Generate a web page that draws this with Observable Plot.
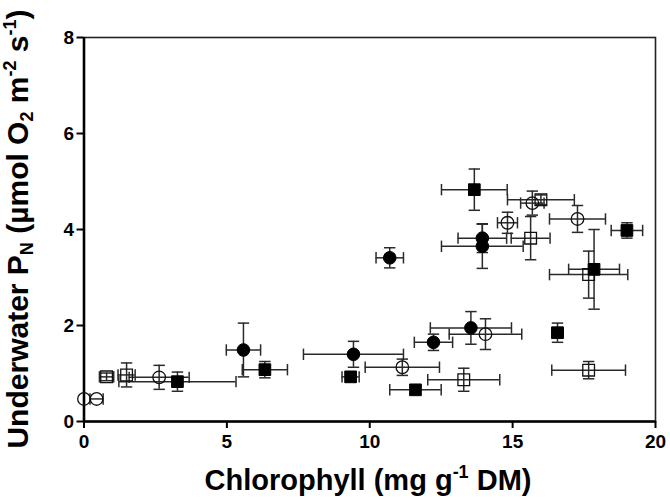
<!DOCTYPE html>
<html>
<head>
<meta charset="utf-8">
<script src="https://cdn.jsdelivr.net/npm/d3@7"></script>
<script src="https://cdn.jsdelivr.net/npm/@observablehq/plot@0.6"></script>
<style>
  html, body { margin: 0; padding: 0; background: #fff; }
  #chart { width: 670px; height: 500px; }
</style>
</head>
<body>
<div id="chart"></div>
<script>
// ---- data ----
const xTicks = [0, 5, 10, 15, 20];
const yTicks = [0, 2, 4, 6, 8];

// filled circles
const filledCircleX    = [5.58, 9.43, 10.70, 12.23, 13.54, 13.94, 13.94];
const filledCircleY    = [1.49, 1.40, 3.41, 1.65, 1.95, 3.82, 3.65];
const filledCircleXerr = [0.60, 1.75, 0.48, 0.67, 1.42, 0.85, 1.43];
const filledCircleYerr = [0.56, 0.27, 0.21, 0.17, 0.34, 0.30, 0.46];

// open circles
const openCircleX    = [0.00, 0.44, 2.63, 11.14, 14.05, 14.82, 15.69, 17.27];
const openCircleY    = [0.47, 0.47, 0.92, 1.13, 1.82, 4.14, 4.55, 4.22];
const openCircleXerr = [0.00, 0.23, 1.05, 1.30, 1.27, 0.35, 0.41, 0.98];
const openCircleYerr = [0.00, 0.00, 0.25, 0.17, 0.32, 0.22, 0.25, 0.28];

// filled squares
const filledSquareX    = [3.27, 6.33, 9.33, 11.60, 13.66, 16.57, 17.85, 19.00];
const filledSquareY    = [0.83, 1.08, 0.93, 0.66, 4.83, 1.85, 3.17, 3.98];
const filledSquareXerr = [2.05, 0.79, 0.30, 0.90, 1.15, 0.20, 0.89, 0.55];
const filledSquareYerr = [0.20, 0.17, 0.10, 0.00, 0.43, 0.20, 0.83, 0.16];

// open squares
const openSquareX    = [0.79, 1.49, 13.29, 15.63, 15.99, 17.66, 17.66];
const openSquareY    = [0.93, 0.97, 0.87, 3.82, 4.62, 3.06, 1.07];
const openSquareXerr = [0.25, 0.30, 1.26, 0.68, 1.17, 1.37, 1.29];
const openSquareYerr = [0.08, 0.25, 0.24, 0.45, 0.10, 0.49, 0.18];

// ---- build table ----
function rows(group, X, Y, XE, YE) {
  return X.map((x, i) => ({group, x, y: Y[i], xe: XE[i], ye: YE[i]}));
}
const fc = rows("filledCircle", filledCircleX, filledCircleY, filledCircleXerr, filledCircleYerr);
const oc = rows("openCircle", openCircleX, openCircleY, openCircleXerr, openCircleYerr);
const fs = rows("filledSquare", filledSquareX, filledSquareY, filledSquareXerr, filledSquareYerr);
const os = rows("openSquare", openSquareX, openSquareY, openSquareXerr, openSquareYerr);
const all = [...fc, ...oc, ...fs, ...os];
const xErr = all.filter(d => d.xe > 0);
const yErr = all.filter(d => d.ye > 0);

// custom cap symbols
const vCap = {draw(ctx, size) { const r = Math.sqrt(size / Math.PI); ctx.moveTo(0, -r); ctx.lineTo(0, r); }};
const hCap = {draw(ctx, size) { const r = Math.sqrt(size / Math.PI); ctx.moveTo(-r, 0); ctx.lineTo(r, 0); }};

const barColor = "#2a2a2a";
const capR = 5.7;
const FONT = "'Liberation Sans', Arial, sans-serif";

const svg = Plot.plot({
  width: 670,
  height: 500,
  marginLeft: 83.5,
  marginRight: 15,
  marginTop: 37,
  marginBottom: 79,
  style: {fontFamily: FONT, fontWeight: "bold", fontSize: "19px", color: "#000", background: "#fff"},
  x: {domain: [0, 20]},
  y: {domain: [0, 8]},
  marks: [
    Plot.frame({stroke: "#222", strokeWidth: 1.6}),
    Plot.axisX({ticks: xTicks, tickSize: 7, tickPadding: 6, tickFormat: d => String(d), label: null, strokeWidth: 2, fontSize: 19, fontWeight: "bold"}),
    Plot.axisY({ticks: yTicks, tickSize: 7, tickPadding: 3, tickFormat: d => String(d), label: null, strokeWidth: 2, fontSize: 19, fontWeight: "bold"}),
    Plot.ruleX([0], {stroke: "#000", strokeWidth: 2.6}),
    Plot.ruleY([0], {stroke: "#000", strokeWidth: 2.6}),
    // horizontal error bars
    Plot.ruleY(xErr, {y: "y", x1: d => d.x - d.xe, x2: d => d.x + d.xe, stroke: barColor, strokeWidth: 1.5}),
    Plot.dot(xErr, {x: d => d.x - d.xe, y: "y", symbol: vCap, r: capR, stroke: barColor, strokeWidth: 1.5, fill: "none"}),
    Plot.dot(xErr, {x: d => d.x + d.xe, y: "y", symbol: vCap, r: capR, stroke: barColor, strokeWidth: 1.5, fill: "none"}),
    // vertical error bars
    Plot.ruleX(yErr, {x: "x", y1: d => d.y - d.ye, y2: d => d.y + d.ye, stroke: barColor, strokeWidth: 1.5}),
    Plot.dot(yErr, {x: "x", y: d => d.y - d.ye, symbol: hCap, r: capR, stroke: barColor, strokeWidth: 1.5, fill: "none"}),
    Plot.dot(yErr, {x: "x", y: d => d.y + d.ye, symbol: hCap, r: capR, stroke: barColor, strokeWidth: 1.5, fill: "none"}),
    // points
    Plot.dot(oc, {x: "x", y: "y", symbol: "circle", r: 6.3, fill: "none", stroke: "#111", strokeWidth: 1.3}),
    Plot.dot(os, {x: "x", y: "y", symbol: "square", r: 6.6, fill: "none", stroke: "#111", strokeWidth: 1.3}),
    Plot.dot(fc, {x: "x", y: "y", symbol: "circle", r: 6.3, fill: "#000", stroke: "#000", strokeWidth: 1}),
    Plot.dot(fs, {x: "x", y: "y", symbol: "square", r: 6.6, fill: "#000", stroke: "#000", strokeWidth: 1})
  ]
});

const s = d3.select(svg);
// x-axis title
const xt = s.append("text")
  .attr("x", 368).attr("y", 490)
  .attr("text-anchor", "middle")
  .attr("font-family", FONT)
  .attr("font-weight", "bold").attr("font-size", 29).attr("fill", "#000");
xt.append("tspan").text("Chlorophyll (mg g");
xt.append("tspan").attr("font-size", 18).attr("dy", -12).text("-1");
xt.append("tspan").attr("dy", 12).text(" DM)");

// y-axis title
const yt = s.append("text")
  .attr("transform", "translate(28,229) rotate(-90)")
  .attr("text-anchor", "middle")
  .attr("font-family", FONT)
  .attr("font-weight", "bold").attr("font-size", 30).attr("fill", "#000");
yt.append("tspan").text("Underwater P");
yt.append("tspan").attr("font-size", 18).attr("dy", 5).text("N");
yt.append("tspan").attr("dy", -5).text(" (µmol O");
yt.append("tspan").attr("font-size", 18).attr("dy", 5).text("2");
yt.append("tspan").attr("dy", -5).text(" m");
yt.append("tspan").attr("font-size", 18).attr("dy", -12).text("-2");
yt.append("tspan").attr("dy", 12).text(" s");
yt.append("tspan").attr("font-size", 18).attr("dy", -12).text("-1");
yt.append("tspan").attr("dy", 12).text(")");

document.getElementById("chart").appendChild(svg);
</script>
</body>
</html>
